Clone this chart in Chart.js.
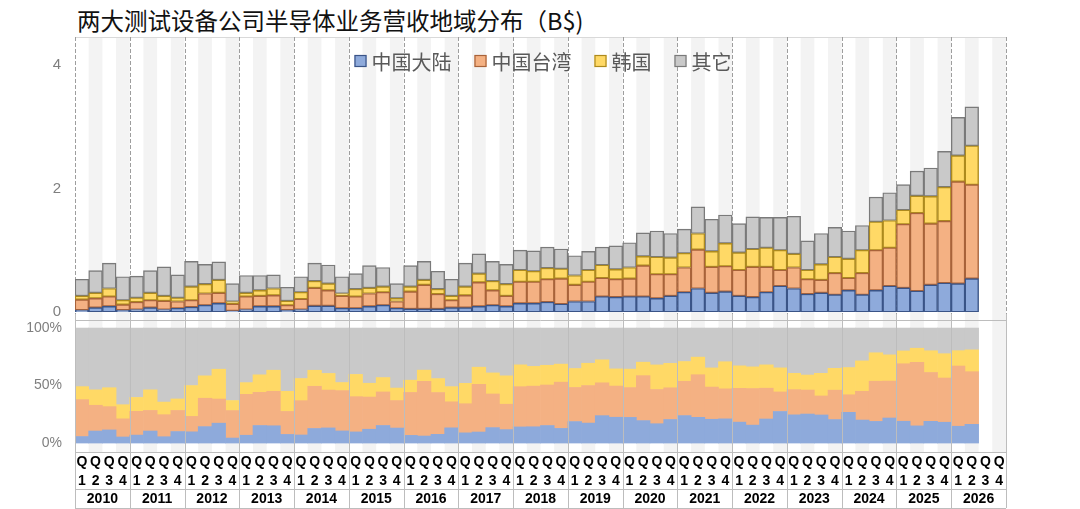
<!DOCTYPE html>
<html><head><meta charset="utf-8">
<script src="https://cdn.jsdelivr.net/npm/chart.js@4.4.1/dist/chart.umd.min.js"></script>
<style>
html,body{margin:0;padding:0;background:#fff;width:1080px;height:509px;overflow:hidden;}
#title{position:absolute;left:77px;top:5px;font-family:"Noto Sans CJK SC";font-size:23.5px;line-height:30px;color:#111;white-space:nowrap;}
#c1{position:absolute;left:0;top:0;}
#c2{position:absolute;left:0;top:314px;}
</style></head>
<body>
<div id="title">两大测试设备公司半导体业务营收地域分布（B$)</div>
<canvas id="c1" width="1080" height="330"></canvas>
<canvas id="c2" width="1080" height="195"></canvas>
<script>
const years = [2010,2011,2012,2013,2014,2015,2016,2017,2018,2019,2020,2021,2022,2023,2024,2025,2026];
const quarterNames = ['Q1','Q2','Q3','Q4'];
const seriesNames = ['中国大陆','中国台湾','韩国','其它'];
const yTicksTop = [0,2,4];
const yTicksBottom = [0,50,100];

const mainland = [.03,.07,.09,.03, .04,.07,.04,.06, .08,.11,.14,.02, .04,.09,.09,.03, .04,.10,.10,.06, .06,.09,.11,.06, .05,.05,.05,.07, .07,.09,.11,.09, .14,.14,.16,.13, .17,.17,.25,.24, .25,.25,.22,.26, .32,.38,.31,.33, .26,.24,.32,.42, .38,.29,.31,.28, .35,.28,.35,.42, .39,.34,.44,.47, .46,.54];
const taiwan = [.17,.15,.16,.09, .12,.12,.14,.11, .11,.19,.17,.11, .21,.17,.18,.08, .17,.29,.25,.20, .19,.21,.21,.11, .28,.39,.24,.12, .20,.39,.24,.17, .35,.35,.37,.41, .27,.32,.30,.29, .29,.50,.39,.35, .40,.63,.42,.41, .42,.49,.41,.26, .34,.24,.21,.35, .20,.35,.65,.62, 1.03,1.26,.99,1.00, 1.65,1.52];
const korea = [.06,.09,.13,.07, .07,.12,.08,.06, .22,.15,.21,.04, .06,.09,.11,.07, .11,.11,.11,.04, .12,.09,.09,.05, .08,.08,.08,.07, .14,.14,.15,.19, .19,.17,.18,.16, .15,.19,.21,.16, .18,.15,.28,.27, .23,.26,.25,.37, .28,.29,.31,.32, .22,.15,.25,.26, .31,.37,.46,.44, .23,.28,.44,.55, .42,.63];
const other = [.27,.36,.41,.38, .35,.36,.47,.37, .41,.32,.29,.29, .28,.24,.22,.22, .25,.29,.30,.27, .25,.36,.31,.24, .34,.30,.29,.27, .38,.32,.32,.32, .32,.33,.34,.32, .32,.30,.29,.38, .40,.38,.42,.39, .39,.43,.52,.46, .47,.52,.49,.53, .61,.47,.50,.48, .45,.40,.40,.45, .41,.40,.46,.58, .62,.63];

const fills = ['#8eaadb','#f4b183','#ffd966','#c9c9c9'];
const borders = ['#3a5487','#a8633a','#ad8a1e','#7a7a7a'];

const categories = [];
years.forEach(y => quarterNames.forEach(q => categories.push(y + q)));
const N = categories.length;
const pad = a => categories.map((_, i) => i < a.length ? a[i] : null);
const series = [mainland, taiwan, korea, other];
const totals = mainland.map((_, i) => series.reduce((s, a) => s + a[i], 0));
const shares = series.map(a => pad(a.map((v, i) => v / totals[i] * 100)));

const FONT = '"Liberation Sans", Arial, sans-serif';
const CJK = '"Noto Sans CJK SC", sans-serif';

function stripes(chart, y0, y1) {
  const ctx = chart.ctx, ca = chart.chartArea;
  const w = (ca.right - ca.left) / N;
  ctx.save();
  ctx.fillStyle = '#f3f3f3';
  for (let i = 1; i < N; i += 2) ctx.fillRect(ca.left + i * w, y0, w, y1 - y0);
  ctx.restore();
}

const topPlugin = {
  id: 'topbg',
  beforeDatasetsDraw(chart) {
    const ctx = chart.ctx, ca = chart.chartArea;
    stripes(chart, ca.top, ca.bottom + 2);
    const w = (ca.right - ca.left) / N;
    ctx.save();
    ctx.strokeStyle = '#d9d9d9';
    ctx.lineWidth = 1;
    ctx.beginPath(); ctx.moveTo(ca.left, ca.top + 0.5); ctx.lineTo(ca.right, ca.top + 0.5); ctx.stroke();
    ctx.strokeStyle = '#9e9e9e';
    ctx.setLineDash([4, 2]);
    for (let k = 0; k <= years.length; k++) {
      const x = Math.round(ca.left + 4 * k * w) + 0.5;
      ctx.beginPath(); ctx.moveTo(x, ca.top); ctx.lineTo(x, ca.bottom + 2); ctx.stroke();
    }
    ctx.restore();
  },
  afterDraw(chart) {
    const ctx = chart.ctx;
    ctx.save();
    ctx.font = '20px ' + CJK;
    ctx.textBaseline = 'middle';
    ctx.textAlign = 'left';
    const box = 12, gap = 5, spacing = 23;
    const widths = seriesNames.map(s => box + gap + ctx.measureText(s).width);
    const total = widths.reduce((a, b) => a + b, 0) + spacing * (widths.length - 1);
    let x = 543 - total / 2;
    const yc = 61;
    seriesNames.forEach((s, j) => {
      ctx.fillStyle = fills[j];
      ctx.fillRect(x, yc - box / 2, box, box);
      ctx.strokeStyle = borders[j];
      ctx.lineWidth = 1.2;
      ctx.strokeRect(x + 0.5, yc - box / 2 + 0.5, box - 1, box - 1);
      ctx.fillStyle = '#595959';
      ctx.fillText(s, x + box + gap, yc + 1);
      x += widths[j] + spacing;
    });
    ctx.restore();
  }
};

const bottomPlugin = {
  id: 'botbg',
  beforeDatasetsDraw(chart) {
    const ca = chart.chartArea;
    stripes(chart, 0, ca.bottom);
  },
  afterDraw(chart) {
    const ctx = chart.ctx, ca = chart.chartArea;
    const w = (ca.right - ca.left) / N;
    const H = chart.height;
    ctx.save();
    ctx.strokeStyle = '#bdbdbd';
    ctx.lineWidth = 1;
    for (let k = 0; k <= years.length; k++) {
      const x = Math.round(ca.left + 4 * k * w) + 0.5;
      ctx.beginPath(); ctx.moveTo(x, 0); ctx.lineTo(x, H - 1); ctx.stroke();
    }
    [ca.top, ca.bottom, 175, H - 1.5].forEach(y => {
      const yy = Math.round(y) + 0.5;
      ctx.beginPath(); ctx.moveTo(ca.left, yy); ctx.lineTo(ca.right, yy); ctx.stroke();
    });
    ctx.fillStyle = '#000';
    ctx.textAlign = 'center';
    ctx.textBaseline = 'middle';
    ctx.font = 'bold 14px ' + FONT;
    const xs = chart.scales.x;
    categories.forEach((c, i) => {
      const x = xs.getPixelForValue(i);
      ctx.fillText(c.slice(4, 5), x, 148);
      ctx.fillText(c.slice(5), x, 167);
    });
    years.forEach((y, k) => {
      ctx.fillText(String(y), ca.left + (4 * k + 2) * w, 185.5);
    });
    ctx.restore();
  }
};

const yFit = s => { s.width = 75; s.paddingTop = 0; s.paddingBottom = 0; };

new Chart(document.getElementById('c1'), {
  type: 'bar',
  data: {
    labels: categories,
    datasets: series.map((a, j) => ({
      label: seriesNames[j],
      data: pad(a),
      backgroundColor: fills[j],
      borderColor: borders[j],
      borderWidth: 1.4,
      categoryPercentage: 1,
      barPercentage: 1,
      borderSkipped: false
    }))
  },
  options: {
    responsive: false,
    animation: false,
    devicePixelRatio: 1,
    layout: { padding: { left: 0, right: 74, top: 37, bottom: 18 } },
    scales: {
      x: { stacked: true, display: false },
      y: {
        stacked: true, min: 0, max: 4.45,
        afterFit: yFit,
        afterBuildTicks: s => { s.ticks = yTicksTop.map(v => ({ value: v })); },
        grid: { display: false, drawTicks: false },
        border: { display: false },
        ticks: { padding: 14, color: '#7f7f7f', font: { size: 15, family: FONT } }
      }
    },
    plugins: { legend: { display: false }, tooltip: { enabled: false } }
  },
  plugins: [topPlugin]
});

new Chart(document.getElementById('c2'), {
  type: 'bar',
  data: {
    labels: categories,
    datasets: shares.map((a, j) => ({
      label: seriesNames[j],
      data: a,
      backgroundColor: fills[j],
      borderWidth: 0,
      categoryPercentage: 1,
      barPercentage: 1
    }))
  },
  options: {
    responsive: false,
    animation: false,
    devicePixelRatio: 1,
    layout: { padding: { left: 0, right: 74, top: 6, bottom: 57 } },
    scales: {
      x: { stacked: true, display: false },
      y: {
        stacked: true, min: -7.8, max: 107,
        afterFit: yFit,
        afterBuildTicks: s => { s.ticks = yTicksBottom.map(v => ({ value: v })); },
        grid: { display: false, drawTicks: false },
        border: { display: false },
        ticks: { padding: 13, color: '#7f7f7f', font: { size: 14, family: FONT }, callback: v => v + '%' }
      }
    },
    plugins: { legend: { display: false }, tooltip: { enabled: false } }
  },
  plugins: [bottomPlugin]
});
</script>
</body></html>
